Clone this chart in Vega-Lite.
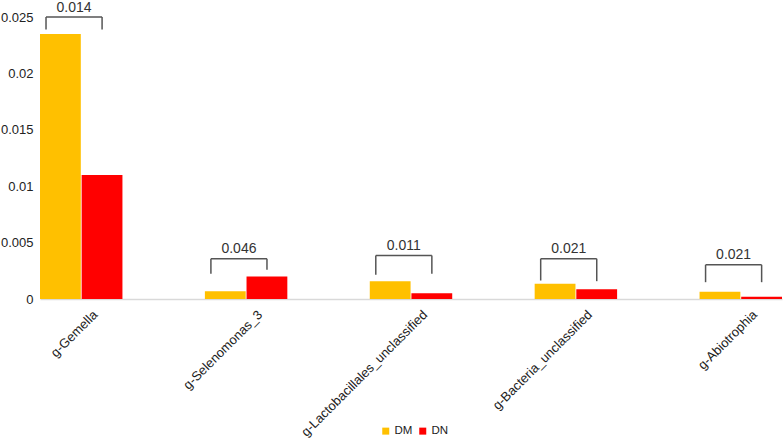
{
  "$schema": "https://vega.github.io/schema/vega-lite/v6.json",
  "autosize": {"type": "none"},
  "width": 742,
  "height": 282,
  "padding": {"left": 40, "top": 17, "right": 1, "bottom": 141},
  "background": "white",
  "config": {
    "font": "Liberation Sans",
    "view": {"stroke": null},
    "axis": {"labelFont": "Liberation Sans", "labelColor": "#222", "labelFontSize": 13}
  },
  "datasets": {
    "bars": [
      {"genus": "g-Gemella", "group": "DM", "value": 0.0235},
      {"genus": "g-Gemella", "group": "DN", "value": 0.0110},
      {"genus": "g-Selenomonas_3", "group": "DM", "value": 0.00069},
      {"genus": "g-Selenomonas_3", "group": "DN", "value": 0.0020},
      {"genus": "g-Lactobacillales_unclassified", "group": "DM", "value": 0.00158},
      {"genus": "g-Lactobacillales_unclassified", "group": "DN", "value": 0.00051},
      {"genus": "g-Bacteria_unclassified", "group": "DM", "value": 0.00135},
      {"genus": "g-Bacteria_unclassified", "group": "DN", "value": 0.00087},
      {"genus": "g-Abiotrophia", "group": "DM", "value": 0.00064},
      {"genus": "g-Abiotrophia", "group": "DN", "value": 0.0002}
    ],
    "brackets": [
      {"genus": "g-Gemella", "p": "0.014", "top": 0.025, "left": 0.0239, "right": 0.0239},
      {"genus": "g-Selenomonas_3", "p": "0.046", "top": 0.00357, "left": 0.00224, "right": 0.00259},
      {"genus": "g-Lactobacillales_unclassified", "p": "0.011", "top": 0.00386, "left": 0.00215, "right": 0.00224},
      {"genus": "g-Bacteria_unclassified", "p": "0.021", "top": 0.00357, "left": 0.00164, "right": 0.00158},
      {"genus": "g-Abiotrophia", "p": "0.021", "top": 0.00303, "left": 0.00149, "right": 0.00149}
    ]
  },
  "layer": [
    {
      "data": {"name": "bars"},
      "mark": {"type": "bar"},
      "encoding": {
        "x": {
          "field": "genus", "type": "nominal", "sort": null,
          "scale": {"paddingInner": 0.5, "paddingOuter": 0},
          "axis": {
            "title": null, "labelAngle": -45, "labelAlign": "right", "labelBaseline": "top",
            "labelPadding": 9, "labelOffset": 10, "ticks": false, "labelFontSize": 13,
            "domainColor": "#d9d9d9", "domainWidth": 1.5
          }
        },
        "xOffset": {"field": "group", "type": "nominal", "scale": {"paddingInner": 0.02}},
        "y": {
          "field": "value", "type": "quantitative",
          "scale": {"domain": [0, 0.025], "nice": false},
          "axis": {
            "title": null, "values": [0, 0.005, 0.01, 0.015, 0.02, 0.025], "format": "~g",
            "domain": false, "ticks": false, "grid": false, "labelPadding": 7
          }
        },
        "color": {
          "field": "group", "type": "nominal",
          "scale": {"domain": ["DM", "DN"], "range": ["#FFC000", "#FF0000"]},
          "legend": {
            "title": null, "orient": "none", "direction": "horizontal",
            "legendX": 340, "legendY": 408, "symbolType": "square", "symbolSize": 49,
            "symbolStrokeWidth": 0, "labelFontSize": 11.5, "labelColor": "#222",
            "columnPadding": 4, "labelOffset": 3
          }
        }
      }
    },
    {
      "data": {"name": "brackets"},
      "mark": {"type": "rule", "color": "#555", "strokeWidth": 1.5},
      "encoding": {
        "x": {"field": "genus", "type": "nominal", "sort": null, "bandPosition": 0.073},
        "y": {"field": "top", "type": "quantitative"},
        "y2": {"field": "left"}
      }
    },
    {
      "data": {"name": "brackets"},
      "mark": {"type": "rule", "color": "#555", "strokeWidth": 1.5},
      "encoding": {
        "x": {"field": "genus", "type": "nominal", "sort": null, "bandPosition": 0.753},
        "y": {"field": "top", "type": "quantitative"},
        "y2": {"field": "right"}
      }
    },
    {
      "data": {"name": "brackets"},
      "mark": {"type": "rule", "color": "#555", "strokeWidth": 1.5},
      "encoding": {
        "x": {"field": "genus", "type": "nominal", "sort": null, "bandPosition": 0.073},
        "x2": {"field": "genus", "bandPosition": 0.753},
        "y": {"field": "top", "type": "quantitative"}
      }
    },
    {
      "data": {"name": "brackets"},
      "mark": {"type": "text", "fontSize": 14, "color": "#333", "baseline": "middle", "align": "center", "dy": -9.5},
      "encoding": {
        "x": {"field": "genus", "type": "nominal", "sort": null, "bandPosition": 0.413},
        "y": {"field": "top", "type": "quantitative"},
        "text": {"field": "p"}
      }
    }
  ]
}
